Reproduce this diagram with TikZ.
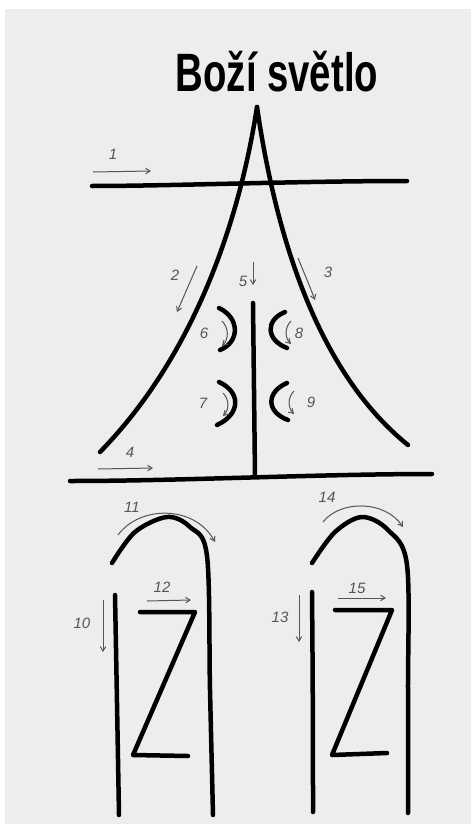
\documentclass[tikz,border=0pt]{standalone}
\usepackage{fontspec}
\setmainfont{Liberation Sans}
\usetikzlibrary{positioning, arrows.meta}
\definecolor{paper}{RGB}{237,237,237}
\definecolor{pencil}{RGB}{85,85,85}
\tikzset{
    stroke/.style={line width=4.5pt, black, line cap=round, line join=round},
    hint/.style={-{Straight Barb[length=4.5pt, width=5.5pt]}, line width=1pt, pencil},
    num/.style={font=\fontsize{15}{15}\selectfont\itshape, text=pencil, inner sep=0pt},
    headline/.style={font=\fontsize{54}{54}\selectfont\bfseries, xscale=0.71, inner sep=0pt, anchor=base}
}

\begin{document}
\begin{tikzpicture}[x=1pt, y=-1pt]
        % Sheet
        \useasboundingbox (0,0) rectangle (471,824);
        \fill[white] (0,0) rectangle (471,824);
        \fill[paper] (5,9) rectangle (471,824);

        \node[headline] (title) at (277,92) {Boží světlo};

        % Upper sign: key points
        \coordinate (apex) at (257,107);
        \coordinate (footL) at (100,452);
        \coordinate (footR) at (408,445);
        \coordinate (barL) at (92,186);
        \coordinate (barR) at (407,181);
        \coordinate (baseL) at (70,481);
        \coordinate (baseR) at (432,474);
        \coordinate (stemT) at (253,303);
        \coordinate (stemB) at (255,476);

        \draw[stroke] (barL) .. controls (170,186) and (300,181) .. (barR); % 1
        \draw[stroke] (apex) .. controls (238,230) and (190,360) .. (footL); % 2
        \draw[stroke] (apex) .. controls (275,230) and (315,370) .. (footR); % 3
        \draw[stroke] (baseL) .. controls (180,481) and (320,474) .. (baseR); % 4
        \draw[stroke] (stemT) -- (stemB); % 5
        \draw[stroke] (219,308) .. controls (240,318) and (240,342) .. (220,350); % 6
        \draw[stroke] (219,382) .. controls (241,392) and (241,414) .. (217,425); % 7
        \draw[stroke] (285,312) .. controls (265,320) and (266,340) .. (287,348); % 8
        \draw[stroke] (287,383) .. controls (266,392) and (266,412) .. (288,420); % 9

        % Upper sign: stroke order
        \node[num] (n1) at (113,154) {1};
        \draw[hint] (93,172) -- (151,171);
        \node[num] (n2) at (175,275) {2};
        \draw[hint] (197,266) -- (177,312);
        \node[num] (n3) at (328,272) {3};
        \draw[hint] (298,258) .. controls (305,275) and (310,287) .. (315,300);
        \node[num] (n4) at (130,452) {4};
        \draw[hint] (98,469) -- (153,468);
        \node[num] (n5) at (243,281) {5};
        \draw[hint] (253,262) -- (253,285);
        \node[num] (n6) at (204,333) {6};
        \draw[hint] (222,321) to[bend left=45] (222,346);
        \node[num] (n7) at (203,403) {7};
        \draw[hint] (223,393) to[bend left=45] (223,416);
        \node[num] (n8) at (299,333) {8};
        \draw[hint] (291,321) to[bend right=45] (291,344);
        \node[num] (n9) at (311,402) {9};
        \draw[hint] (294,391) to[bend right=45] (294,414);

        % Lower left sign
        \draw[stroke] plot[smooth, tension=0.55] coordinates {(112,563) (135,532) (167,517) (190,527) (207,556) (210,690) (213,815)}; % 11
        \draw[stroke] (115,595) .. controls (117,700) and (118,760) .. (119,815); % 10
        \draw[stroke] (140,612) -- (195,612) -- (133,755) -- (188,756); % 12
        \node[num] (n10) at (82,623) {10};
        \draw[hint] (103,600) -- (103,652);
        \node[num] (n11) at (132,507) {11};
        \draw[hint] (118,535) .. controls (140,505) and (195,505) .. (215,542);
        \node[num] (n12) at (162,587) {12};
        \draw[hint] (147,601) -- (191,600);

        % Lower right sign
        \draw[stroke] plot[smooth, tension=0.55] coordinates {(312,563) (335,532) (362,517) (388,530) (407,565) (408,690) (408,813)}; % 14
        \draw[stroke] (312,592) .. controls (313,700) and (313,760) .. (313,812); % 13
        \draw[stroke] (335,610) -- (392,610) -- (332,755) -- (387,753); % 15
        \node[num] (n13) at (280,617) {13};
        \draw[hint] (299,595) -- (299,642);
        \node[num] (n14) at (327,497) {14};
        \draw[hint] (323,522) .. controls (340,500) and (385,500) .. (403,527);
        \node[num] (n15) at (357,588) {15};
        \draw[hint] (338,598) -- (386,598);
    \end{tikzpicture}
\end{document}
